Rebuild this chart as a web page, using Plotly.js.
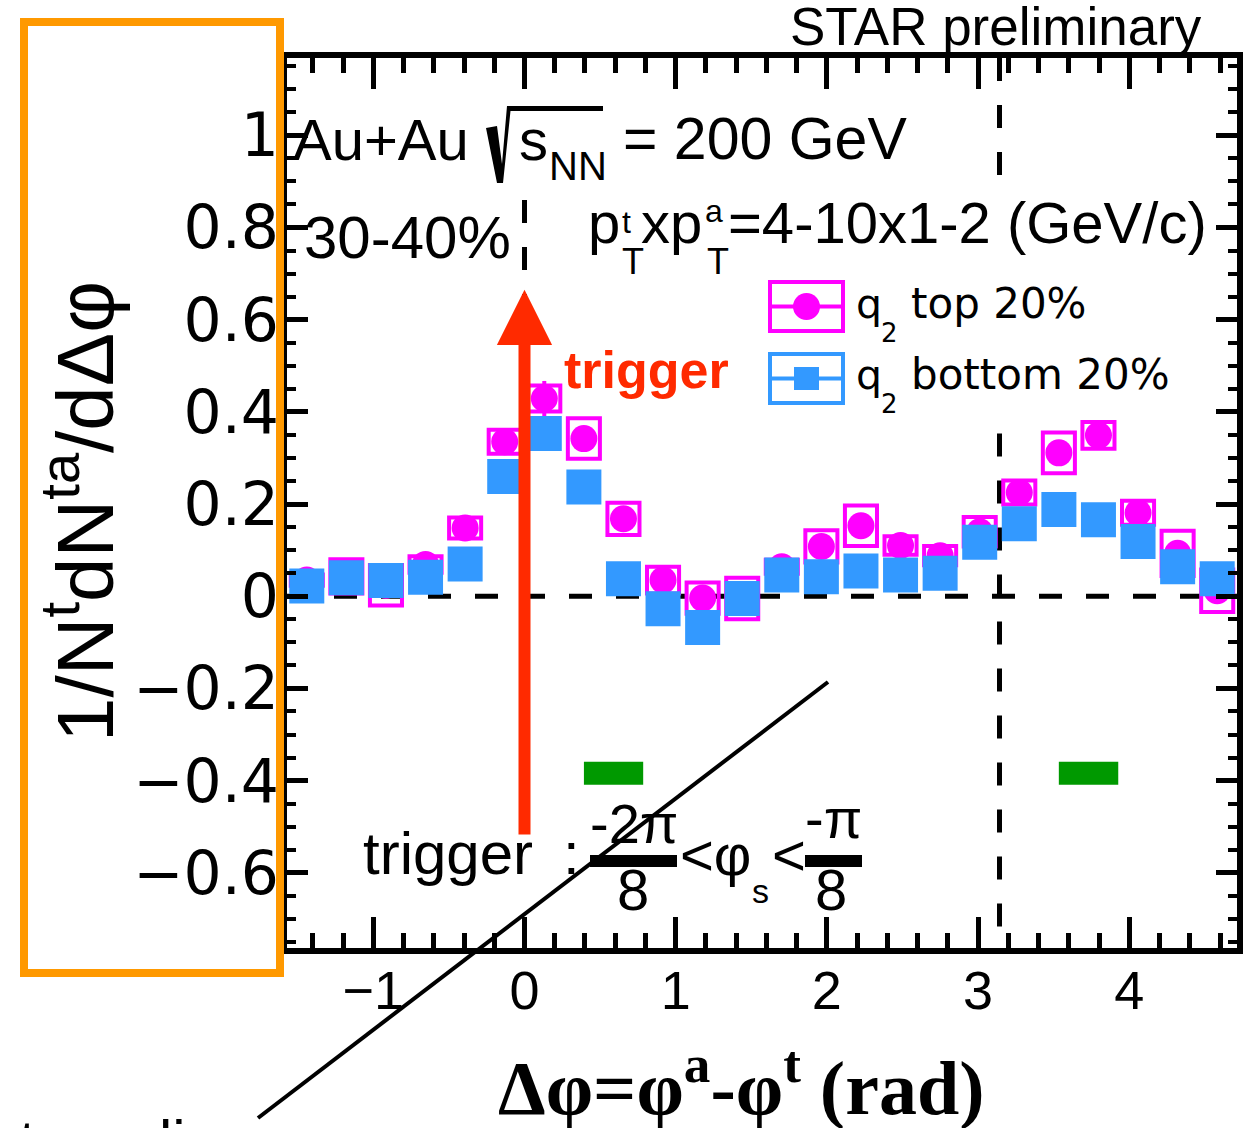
<!DOCTYPE html>
<html>
<head>
<meta charset="utf-8">
<script src="https://cdn.plot.ly/plotly-3.0.1.min.js"></script>
<style>
html,body{margin:0;padding:0;background:#ffffff;}
#chart{width:1250px;height:1128px;}
</style>
</head>
<body>
<div id="chart"></div>
<script>
// ---------------- DATA ----------------
// bin centres of the 24 Δφ bins (rad)
const binCenters = [-1.4399, -1.1781, -0.9163, -0.6545, -0.3927, -0.1309, 0.1309, 0.3927,
                    0.6545, 0.9163, 1.1781, 1.4399, 1.7017, 1.9635, 2.2253, 2.4871,
                    2.7489, 3.0107, 3.2725, 3.5343, 3.7961, 4.0579, 4.3197, 4.5815];
// q2 top 20%
const q2TopValues = [0.035, 0.043, 0.024, 0.069, 0.148, 0.335, 0.429, 0.342,
                     0.168, 0.035, -0.004, -0.005, 0.064, 0.108, 0.153, 0.110,
                     0.088, 0.140, 0.225, 0.311, 0.349, 0.181, 0.093, 0.012];
const q2TopStat   = [0.025, 0.025, 0.025, 0.025, 0.025, 0.025, 0.038, 0.025,
                     0.025, 0.025, 0.025, 0.025, 0.025, 0.025, 0.025, 0.025,
                     0.025, 0.025, 0.025, 0.025, 0.025, 0.025, 0.025, 0.025];
const q2TopSyst   = [0.012, 0.037, 0.044, 0.018, 0.023, 0.026, 0.028, 0.044,
                     0.035, 0.029, 0.034, 0.045, 0.015, 0.035, 0.044, 0.020,
                     0.021, 0.032, 0.026, 0.044, 0.029, 0.026, 0.049, 0.046];
// q2 bottom 20%
const q2BottomValues = [0.022, 0.040, 0.034, 0.041, 0.070, 0.260, 0.353, 0.237,
                        0.038, -0.027, -0.068, -0.005, 0.046, 0.042, 0.055, 0.046,
                        0.050, 0.117, 0.157, 0.188, 0.166, 0.119, 0.064, 0.038];
const q2BottomStat   = [0.025, 0.025, 0.025, 0.025, 0.025, 0.025, 0.025, 0.025,
                        0.025, 0.025, 0.025, 0.025, 0.025, 0.025, 0.025, 0.025,
                        0.025, 0.025, 0.025, 0.025, 0.025, 0.025, 0.025, 0.025];
// axis ticks
const xTickValues = [-1, 0, 1, 2, 3, 4];
const xTickLabels = ['\u22121', '0', '1', '2', '3', '4'];
const yTickValues = [-0.6, -0.4, -0.2, 0, 0.2, 0.4, 0.6, 0.8, 1];
const yTickLabels = ['\u22120.6', '\u22120.4', '\u22120.2', '0', '0.2', '0.4', '0.6', '0.8', '1'];
// green markers (event-plane slices)
const sliceLow  = [0.393, 3.534];
const sliceHigh = [0.785, 3.927];
const sliceBand = [-0.409, -0.359];
// trigger arrow (y from, y to) and reference lines
const triggerArrowY = [-0.52, 0.665];
const nearSideLineY = [0.8594, 0.60];
const awaySideX = 3.1416;
const awaySideUpperY = [1.1676, 0.912];   // visible part above the legend
const awaySideLowerY = [0.353, -0.7631];  // visible part below the legend

// ---------------- LAYOUT HELPERS ----------------
const L = 287, R = 1237, T = 58, B = 948;
const px = x => (x - L) / (R - L);
const py = y => (B - y) / (B - T);
const LIB = 'Liberation Sans, Arial, Helvetica, sans-serif';
const DJV = 'DejaVu Sans, Verdana, sans-serif';
const SERIF = 'Liberation Serif, Times New Roman, serif';
const RED = '#ff2a00', MAG = '#ff00ff', BLUE = '#3399ff', GREEN = '#009900', ORANGE = '#ff9900';

function tb(text, x, base, size, o) {
  o = o || {};
  return {
    text: text, xref: 'paper', yref: 'paper',
    x: px(x), y: py(base - 0.35 * size),
    xanchor: o.xa || 'left', yanchor: 'middle', showarrow: false, borderpad: 0,
    font: {family: o.family || LIB, size: size, color: o.color || '#000'}
  };
}
function rect(x0, y0, x1, y1, lineColor, lw, fill) {
  return {type: 'rect', xref: 'paper', yref: 'paper', x0: px(x0), x1: px(x1), y0: py(y0), y1: py(y1),
          line: {color: lineColor, width: lw}, fillcolor: fill || 'rgba(0,0,0,0)', layer: 'above'};
}
function seg(x0, y0, x1, y1, color, lw) {
  return {type: 'line', xref: 'paper', yref: 'paper', x0: px(x0), x1: px(x1), y0: py(y0), y1: py(y1),
          line: {color: color, width: lw}, layer: 'above'};
}
function pathPx(points) {
  return 'M' + points.map(p => px(p[0]) + ',' + py(p[1])).join(' L') + ' Z';
}
const DASH = '23px,24px';

// ---------------- TRACES ----------------
const systBoxes = {
  type: 'bar', x: binCenters,
  base: q2TopValues.map((v, i) => v - q2TopSyst[i]),
  y: q2TopSyst.map(s => 2 * s),
  width: 0.212,
  marker: {color: 'rgba(0,0,0,0)', line: {color: MAG, width: 4}},
  showlegend: false, hoverinfo: 'skip'
};
const sliceBars = {
  type: 'bar',
  x: sliceLow.map((lo, i) => (lo + sliceHigh[i]) / 2),
  width: sliceLow.map((lo, i) => sliceHigh[i] - lo),
  base: sliceLow.map(() => sliceBand[0]),
  y: sliceLow.map(() => sliceBand[1] - sliceBand[0]),
  marker: {color: GREEN, line: {width: 0}},
  showlegend: false, hoverinfo: 'skip'
};
const topTrace = {
  type: 'scatter', mode: 'markers', name: 'q2 top 20%',
  x: binCenters, y: q2TopValues,
  error_y: {type: 'data', array: q2TopStat, color: MAG, thickness: 4, width: 0},
  marker: {symbol: 'circle', size: 27, color: MAG, line: {width: 0}},
  showlegend: false
};
const bottomTrace = {
  type: 'scatter', mode: 'markers', name: 'q2 bottom 20%',
  x: binCenters, y: q2BottomValues,
  error_y: {type: 'data', array: q2BottomStat, color: BLUE, thickness: 4, width: 0},
  marker: {symbol: 'square', size: 35, color: BLUE, line: {width: 0}},
  showlegend: false
};

// ---------------- SHAPES ----------------
const shapes = [
  // y = 0 dashed
  {type: 'line', xref: 'paper', yref: 'y', x0: 0, x1: 1, y0: 0, y1: 0,
   line: {color: '#000', width: 5, dash: DASH}, layer: 'below'},
  // Δφ = π dashed (hidden behind the legend block)
  {type: 'line', xref: 'x', yref: 'y', x0: awaySideX, x1: awaySideX, y0: awaySideUpperY[0], y1: awaySideUpperY[1],
   line: {color: '#000', width: 5, dash: DASH}, layer: 'below'},
  {type: 'line', xref: 'x', yref: 'y', x0: awaySideX, x1: awaySideX, y0: awaySideLowerY[0], y1: awaySideLowerY[1],
   line: {color: '#000', width: 5, dash: DASH}, layer: 'below'},
  // Δφ = 0 dashed
  {type: 'line', xref: 'x', yref: 'y', x0: 0, x1: 0, y0: nearSideLineY[0], y1: nearSideLineY[1],
   line: {color: '#000', width: 5, dash: DASH}, layer: 'below'},
  // orange highlight box
  rect(24, 22, 280, 973, ORANGE, 8),
  // legend: q2 top
  rect(770, 282, 843, 331, MAG, 4),
  seg(770, 306.5, 843, 306.5, MAG, 4),
  {type: 'circle', xref: 'paper', yref: 'paper', x0: px(793), x1: px(820), y0: py(320), y1: py(293),
   fillcolor: MAG, line: {width: 0}, layer: 'above'},
  // legend: q2 bottom
  rect(770, 354, 843, 403, BLUE, 4),
  seg(770, 378.5, 843, 378.5, BLUE, 4),
  rect(794, 367, 819, 390, 'rgba(0,0,0,0)', 0, BLUE),
  // sqrt sign + overline
  {type: 'path', xref: 'paper', yref: 'paper', layer: 'above',
   path: pathPx([[486, 128], [497, 126], [502, 164], [507, 106], [511, 106], [503, 183], [497, 183]]),
   fillcolor: '#000', line: {width: 0}},
  rect(507, 106, 603, 111, 'rgba(0,0,0,0)', 0, '#000'),
  // fraction bars
  rect(590, 855, 677, 867, 'rgba(0,0,0,0)', 0, '#000'),
  rect(805, 855, 862, 867, 'rgba(0,0,0,0)', 0, '#000'),
  // diagonal pointer line
  seg(258, 1118, 828, 682, '#000', 4)
];

// ---------------- ANNOTATIONS ----------------
const annotations = [
  tb('STAR preliminary', 789, 45, 53),
  tb('Au+Au', 292, 160, 58),
  tb('s', 518, 160, 58),
  tb('NN', 548, 180, 40),
  tb('= 200 GeV', 622, 160, 59),
  tb('30-40%', 303, 258, 60),
  tb('p', 587, 243, 58),
  tb('t', 621, 233, 32),
  tb('T', 621, 274, 36),
  tb('xp', 640, 243, 58),
  tb('a', 704, 222, 32),
  tb('T', 706, 274, 36),
  tb('=4-10x1-2 (GeV/c)', 727, 243, 58),
  tb('<b>trigger</b>', 563, 388, 52, {color: RED}),
  // legend text
  tb('q', 855, 318, 41, {family: DJV}),
  tb('2', 880, 342, 26, {family: DJV}),
  tb('top 20%', 910, 318, 42, {family: DJV}),
  tb('q', 855, 389.5, 41, {family: DJV}),
  tb('2', 880, 413.5, 26, {family: DJV}),
  tb('bottom 20%', 910, 389.5, 42, {family: DJV}),
  // trigger condition
  tb('trigger', 362, 874, 60),
  tb(':', 562, 874, 60),
  tb('-2\u03c0', 633.5, 843, 56, {xa: 'center'}),
  tb('8', 632.5, 910, 58, {xa: 'center'}),
  tb('<\u03c6', 679, 875, 58),
  tb('s', 751, 903, 34),
  tb('<', 771, 875, 58),
  tb('-\u03c0', 833.5, 838, 56, {xa: 'center'}),
  tb('8', 831, 910, 58, {xa: 'center'}),
  // cut-off text at the bottom edge
  tb('t', 18, 1162, 60),
  tb('li', 158, 1162, 60),
  // axis titles
  {text: '1/N<sup>t</sup>dN<sup>ta</sup>/d\u0394\u03c6', xref: 'paper', yref: 'paper',
   x: px(79), y: py(512), xanchor: 'center', yanchor: 'middle', textangle: -90,
   showarrow: false, borderpad: 0, font: {family: LIB, size: 80, color: '#000'}},
  {text: '<b>\u0394\u03c6=\u03c6<sup>a</sup>-\u03c6<sup>t</sup> (rad)</b>', xref: 'paper', yref: 'paper',
   x: px(741), y: py(1083), xanchor: 'center', yanchor: 'middle',
   showarrow: false, borderpad: 0, font: {family: SERIF, size: 76, color: '#000'}},
  // trigger arrow
  {x: 0, y: triggerArrowY[1], ax: 0, ay: triggerArrowY[0], xref: 'x', yref: 'y', axref: 'x', ayref: 'y',
   showarrow: true, arrowhead: 2, arrowsize: 0.92, arrowwidth: 12, arrowcolor: RED, text: ''}
];

const layout = {
  width: 1250, height: 1128,
  margin: {l: L, r: 1250 - R, t: T, b: 1128 - B, pad: 0},
  paper_bgcolor: '#ffffff', plot_bgcolor: 'rgba(0,0,0,0)',
  barmode: 'overlay', showlegend: false,
  xaxis: {
    range: [-1.5708, 4.7124], showline: true, linewidth: 6, linecolor: '#000', mirror: 'allticks',
    ticks: 'inside', ticklen: 31, tickwidth: 5, tickcolor: '#000',
    tickmode: 'array', tickvals: xTickValues, ticktext: xTickLabels,
    ticklabelstandoff: -10,
    minor: {tickmode: 'linear', tick0: 0, dtick: 0.2, ticks: 'inside', ticklen: 15, tickwidth: 5, tickcolor: '#000', showgrid: false},
    showgrid: false, zeroline: false,
    tickfont: {family: LIB, size: 54, color: '#000'}
  },
  yaxis: {
    range: [-0.7631, 1.1676], showline: true, linewidth: 6, linecolor: '#000', mirror: 'allticks',
    ticks: 'inside', ticklen: 21, tickwidth: 5, tickcolor: '#000',
    tickmode: 'array', tickvals: yTickValues, ticktext: yTickLabels,
    ticklabelstandoff: -10,
    minor: {tickmode: 'linear', tick0: 0, dtick: 0.05, ticks: 'inside', ticklen: 9, tickwidth: 4, tickcolor: '#000', showgrid: false},
    showgrid: false, zeroline: false,
    tickfont: {family: DJV, size: 60, color: '#000'}
  },
  shapes: shapes,
  annotations: annotations
};

Plotly.newPlot('chart', [systBoxes, sliceBars, topTrace, bottomTrace], layout,
               {displayModeBar: false, staticPlot: true});
</script>
</body>
</html>
